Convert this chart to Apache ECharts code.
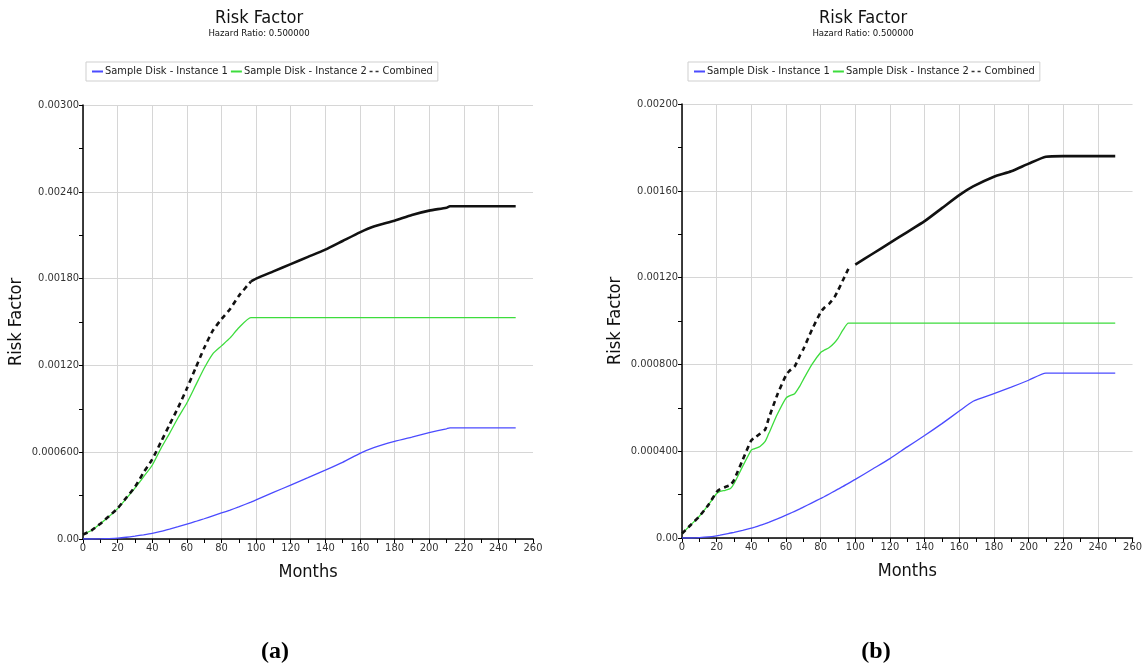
<!DOCTYPE html>
<html lang="en">
<head>
<meta charset="UTF-8">
<title>Risk Factor</title>
<script src="https://cdn.jsdelivr.net/npm/echarts@6/dist/echarts.min.js"></script>
<style>
  body { margin: 0; background: #fff; }
  #main { width: 1145px; height: 671px; }
</style>
</head>
<body>
<div id="main"></div>
<script>
// ---- data (a) ----
var monthsA = [0, 5, 10, 15, 20, 25, 30, 35, 40, 45, 50, 55, 60, 65, 70, 75, 80, 85, 90, 97, 100, 110, 120, 130, 140, 150, 160, 168, 180, 190, 200, 210, 212, 220, 230, 240, 250];
var inst1A = [0, 0, 0.000001, 0.000003, 0.000006, 0.000012, 0.00002, 0.000029, 0.000039, 0.000052, 0.000068, 0.000085, 0.000103, 0.000121, 0.00014, 0.00016, 0.00018, 0.0002, 0.000222, 0.000255, 0.00027, 0.000322, 0.000373, 0.000424, 0.000476, 0.00053, 0.000592, 0.000632, 0.000675, 0.000705, 0.000735, 0.000762, 0.000768, 0.000768, 0.000768, 0.000768, 0.000768];
var inst2A = [0.00003, 0.00006, 0.000105, 0.000155, 0.00021, 0.00028, 0.000352, 0.00043, 0.00051, 0.000625, 0.00073, 0.00084, 0.00094, 0.00106, 0.00118, 0.00128, 0.001335, 0.00139, 0.00146, 0.00153, 0.00153, 0.00153, 0.00153, 0.00153, 0.00153, 0.00153, 0.00153, 0.00153, 0.00153, 0.00153, 0.00153, 0.00153, 0.00153, 0.00153, 0.00153, 0.00153, 0.00153];
var combA = [0.00003, 0.00006, 0.000106, 0.000157, 0.000212, 0.000285, 0.00036, 0.00046, 0.00055, 0.00067, 0.00079, 0.00091, 0.00104, 0.00118, 0.00132, 0.00144, 0.00152, 0.00159, 0.00168, 0.00178, 0.0018, 0.00185, 0.0019, 0.00195, 0.002, 0.00206, 0.00212, 0.00216, 0.0022, 0.00224, 0.00227, 0.00229, 0.0023, 0.0023, 0.0023, 0.0023, 0.0023];
var yTicksA = ['0.00', '0.000600', '0.00120', '0.00180', '0.00240', '0.00300'];

// ---- data (b) ----
var monthsB = [0, 5, 10, 15, 20, 22, 25, 28, 30, 35, 40, 42, 45, 48, 50, 55, 60, 62, 65, 68, 70, 75, 80, 82, 85, 88, 90, 93, 96, 100, 110, 120, 130, 140, 150, 160, 168, 180, 190, 200, 210, 220, 230, 240, 250];
var inst1B = [0, 0, 0.000002, 0.000005, 0.00001, 0.000013, 0.000018, 0.000023, 0.000026, 0.000035, 0.000045, 0.00005, 0.000058, 0.000066, 0.000072, 0.000088, 0.000105, 0.000112, 0.000123, 0.000134, 0.000142, 0.000162, 0.000182, 0.00019, 0.000203, 0.000216, 0.000225, 0.000238, 0.000252, 0.00027, 0.000318, 0.000366, 0.00042, 0.000472, 0.000527, 0.000585, 0.00063, 0.000665, 0.000695, 0.000727, 0.00076, 0.00076, 0.00076, 0.00076, 0.00076];
var inst2B = [0.00002, 0.00006, 0.0001, 0.00015, 0.000205, 0.000215, 0.00022, 0.000228, 0.00025, 0.00033, 0.000405, 0.000412, 0.000422, 0.000445, 0.00048, 0.00057, 0.000645, 0.000655, 0.000665, 0.0007, 0.00073, 0.0008, 0.000855, 0.000865, 0.000878, 0.0009, 0.00092, 0.00096, 0.00099, 0.00099, 0.00099, 0.00099, 0.00099, 0.00099, 0.00099, 0.00099, 0.00099, 0.00099, 0.00099, 0.00099, 0.00099, 0.00099, 0.00099, 0.00099, 0.00099];
var combB = [0.00002, 0.00006, 0.0001, 0.00015, 0.000212, 0.000225, 0.000235, 0.000245, 0.000267, 0.00036, 0.00045, 0.000462, 0.00048, 0.0005, 0.00055, 0.00066, 0.00075, 0.00077, 0.00079, 0.00084, 0.00087, 0.00096, 0.00104, 0.00106, 0.00108, 0.00111, 0.00114, 0.00119, 0.00124, 0.00126, 0.00131, 0.00136, 0.00141, 0.00146, 0.00152, 0.00158, 0.00162, 0.001665, 0.00169, 0.001725, 0.001757, 0.00176, 0.00176, 0.00176, 0.00176];
var yTicksB = ['0.00', '0.000400', '0.000800', '0.00120', '0.00160', '0.00200'];

var names = ['Sample Disk - Instance 1', 'Sample Disk - Instance 2', 'Combined'];
var FONT = "'DejaVu Sans Condensed', 'DejaVu Sans', sans-serif";
var BLUE = '#4b4bff', GREEN = '#3ddc3d', BLACK = '#111';
var dashEnd = 97; // combined line looks dashed only on the steep part

function pairs(ms, vs, from, to) {
  var out = [];
  for (var i = 0; i < ms.length; i++) {
    if (ms[i] >= from && ms[i] <= to) out.push([ms[i], vs[i]]);
  }
  return out;
}

function xAxisFor(idx) {
  return {
    gridIndex: idx, type: 'value', min: 0, max: 260, interval: 20,
    name: 'Months', nameLocation: 'middle', nameGap: 24,
    nameTextStyle: { fontSize: 18, color: '#111', fontFamily: FONT },
    axisLine: { lineStyle: { color: '#000', width: 1.5 } },
    axisTick: { show: true, length: 4, lineStyle: { color: '#000' } },
    minorTick: { show: true, splitNumber: 2, length: 4, lineStyle: { color: '#000' } },
    axisLabel: { fontSize: 11, color: '#333', margin: 4, fontFamily: FONT },
    splitLine: { show: true, showMaxLine: false, lineStyle: { color: '#d6d6d6' } }
  };
}

function yAxisFor(idx, step, labels) {
  return {
    gridIndex: idx, type: 'value', min: 0, max: step * 5, interval: step,
    name: 'Risk Factor', nameLocation: 'middle', nameGap: 58,
    nameTextStyle: { fontSize: 18, color: '#111', fontFamily: FONT },
    axisLine: { show: true, lineStyle: { color: '#000', width: 1.5 } },
    axisTick: { show: true, length: 4, lineStyle: { color: '#000' } },
    minorTick: { show: true, splitNumber: 2, length: 4, lineStyle: { color: '#000' } },
    axisLabel: {
      fontSize: 11, color: '#333', margin: 4, fontFamily: FONT,
      formatter: function (v) { return labels[Math.round(v / step)]; }
    },
    splitLine: { show: true, lineStyle: { color: '#d6d6d6' } }
  };
}

function seriesFor(idx, ms, s1, s2, comb) {
  return [
    { name: names[0], type: 'line', xAxisIndex: idx, yAxisIndex: idx, symbol: 'none', smooth: 0.2,
      data: pairs(ms, s1, 0, 999), lineStyle: { color: BLUE, width: 1.3 }, itemStyle: { color: BLUE } },
    { name: names[1], type: 'line', xAxisIndex: idx, yAxisIndex: idx, symbol: 'none', smooth: 0.2,
      data: pairs(ms, s2, 0, 999), lineStyle: { color: GREEN, width: 1.3 }, itemStyle: { color: GREEN } },
    { name: names[2], type: 'line', xAxisIndex: idx, yAxisIndex: idx, symbol: 'none', smooth: 0.2, z: 3,
      data: pairs(ms, comb, 0, dashEnd), lineStyle: { color: BLACK, width: 2.6, type: [5, 4] }, itemStyle: { color: BLACK } },
    { name: 'Combined (solid)', type: 'line', xAxisIndex: idx, yAxisIndex: idx, symbol: 'none', smooth: 0.2, z: 3,
      data: pairs(ms, comb, dashEnd, 999), lineStyle: { color: BLACK, width: 2.6 }, itemStyle: { color: BLACK } }
  ];
}

function legendFor(left) {
  return {
    data: [
      { name: names[0], lineStyle: { color: BLUE, width: 2 } },
      { name: names[1], lineStyle: { color: GREEN, width: 2 } },
      { name: names[2], lineStyle: { color: '#333', width: 1.5, type: [3, 3] } }
    ],
    left: left, top: 62, orient: 'horizontal',
    borderColor: '#cfcfcf', borderWidth: 1, padding: [4, 5],
    itemWidth: 11, itemHeight: 8, itemGap: 2,
    itemStyle: { opacity: 0 },
    textStyle: { fontSize: 11, color: '#222', fontFamily: FONT, padding: [0, 0, 0, -3] },
    selectedMode: false
  };
}

var chart = echarts.init(document.getElementById('main'));
chart.setOption({
  animation: false,
  title: [
    { text: 'Risk Factor', subtext: 'Hazard Ratio: 0.500000', left: 254, top: 4, textAlign: 'center', itemGap: 2,
      textStyle: { fontSize: 18, fontWeight: 'normal', color: '#111', fontFamily: FONT },
      subtextStyle: { fontSize: 9.5, color: '#111', fontFamily: FONT } },
    { text: 'Risk Factor', subtext: 'Hazard Ratio: 0.500000', left: 858, top: 4, textAlign: 'center', itemGap: 2,
      textStyle: { fontSize: 18, fontWeight: 'normal', color: '#111', fontFamily: FONT },
      subtextStyle: { fontSize: 9.5, color: '#111', fontFamily: FONT } },
    { text: '(a)', left: 270, top: 635, textAlign: 'center',
      textStyle: { fontSize: 24, fontWeight: 'bold', color: '#000', fontFamily: "'Liberation Serif', 'DejaVu Serif', serif" } },
    { text: '(b)', left: 871, top: 635, textAlign: 'center',
      textStyle: { fontSize: 24, fontWeight: 'bold', color: '#000', fontFamily: "'Liberation Serif', 'DejaVu Serif', serif" } }
  ],
  legend: [legendFor(86), legendFor(688)],
  grid: [
    { left: 83, top: 105, width: 450, height: 434 },
    { left: 682, top: 104, width: 451, height: 434 }
  ],
  xAxis: [xAxisFor(0), xAxisFor(1)],
  yAxis: [yAxisFor(0, 0.0006, yTicksA), yAxisFor(1, 0.0004, yTicksB)],
  series: seriesFor(0, monthsA, inst1A, inst2A, combA).concat(seriesFor(1, monthsB, inst1B, inst2B, combB))
});
</script>
</body>
</html>
